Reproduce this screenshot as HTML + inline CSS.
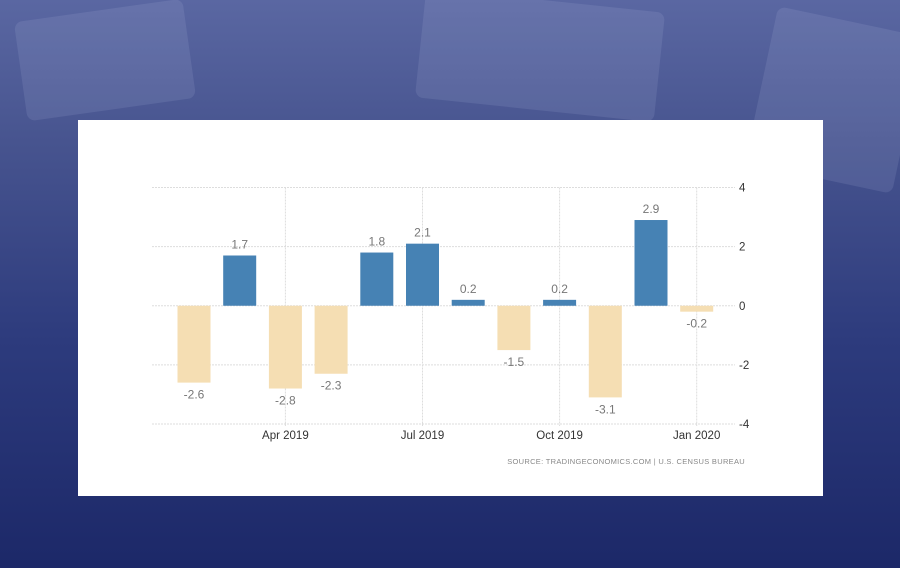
<!DOCTYPE html>
<html><head><meta charset="utf-8"><style>
html,body{margin:0;padding:0;width:900px;height:568px;overflow:hidden}
body{background:linear-gradient(180deg,#5a67a2 0%,#47548f 25%,#2d3b7d 60%,#1c2868 100%);font-family:"Liberation Sans",sans-serif;position:relative}
.bgshape{position:absolute;border-radius:8px;opacity:.12;background:#c8d0ee}
#card{position:absolute;left:78px;top:120px;width:745px;height:376px;background:#fff}
svg{position:absolute;left:0;top:0}
</style></head><body>
<div class="bgshape" style="left:20px;top:10px;width:170px;height:100px;transform:rotate(-8deg)"></div>
<div class="bgshape" style="left:420px;top:0px;width:240px;height:110px;transform:rotate(6deg)"></div>
<div class="bgshape" style="left:760px;top:20px;width:150px;height:160px;transform:rotate(12deg)"></div>
<div id="card"></div>
<svg id="chart" width="900" height="568"></svg>
<script>
const categories=["Feb 2019","Mar 2019","Apr 2019","May 2019","Jun 2019","Jul 2019","Aug 2019","Sep 2019","Oct 2019","Nov 2019","Dec 2019","Jan 2020"];
const values=[-2.6,1.7,-2.8,-2.3,1.8,2.1,0.2,-1.5,0.2,-3.1,2.9,-0.2];
const yTicks=[4,2,0,-2,-4];
const xTickLabels=["Apr 2019","Jul 2019","Oct 2019","Jan 2020"];
const xTickIndex=[2,5,8,11];

const NS="http://www.w3.org/2000/svg";
const svg=document.getElementById('chart');
const plotL=152,plotR=735,yTop=187.5,yBot=424;
function y(v){return yTop+(4-v)*(yBot-yTop)/8;}
function x(i){return 194+i*45.7;}
function mk(t,a){const e=document.createElementNS(NS,t);for(const k in a)e.setAttribute(k,a[k]);svg.appendChild(e);return e;}
yTicks.forEach(t=>{
  const l=mk('line',{x1:plotL,x2:plotR,y1:y(t),y2:y(t),stroke:'#ddd','stroke-dasharray':'2,1'});
  
  
  const tx=mk('text',{x:739,y:y(t)+4,'font-size':11.5,fill:'#333'});
  tx.textContent=t;
  
  
});
xTickIndex.forEach((ix,k)=>{
  const l=mk('line',{x1:x(ix),x2:x(ix),y1:yTop,y2:yBot+2,stroke:'#ddd','stroke-dasharray':'2,1'});
  
  
  const tx=mk('text',{x:x(ix),y:439,'font-size':11.5,fill:'#333','text-anchor':'middle'});
  tx.textContent=xTickLabels[k];
  
  
});
values.forEach((v,i)=>{
  const y0=y(0),y1=y(v);
  const r=mk('rect',{x:x(i)-16.5,y:Math.min(y0,y1),width:33,height:Math.max(1,Math.abs(y1-y0)),fill:v>=0?'#4682b4':'#f5deb3'});
  
  
  const tx=mk('text',{x:x(i),y:v>=0?y1-7:y1+16,'font-size':12,fill:'#777','text-anchor':'middle'});
  tx.textContent=v.toFixed(1);
  
  
});
const src=mk('text',{x:745,y:464,'font-size':7.5,fill:'#888','text-anchor':'end','letter-spacing':'0.3'});
src.textContent='SOURCE: TRADINGECONOMICS.COM  |  U.S. CENSUS BUREAU';


</script>
</body></html>
